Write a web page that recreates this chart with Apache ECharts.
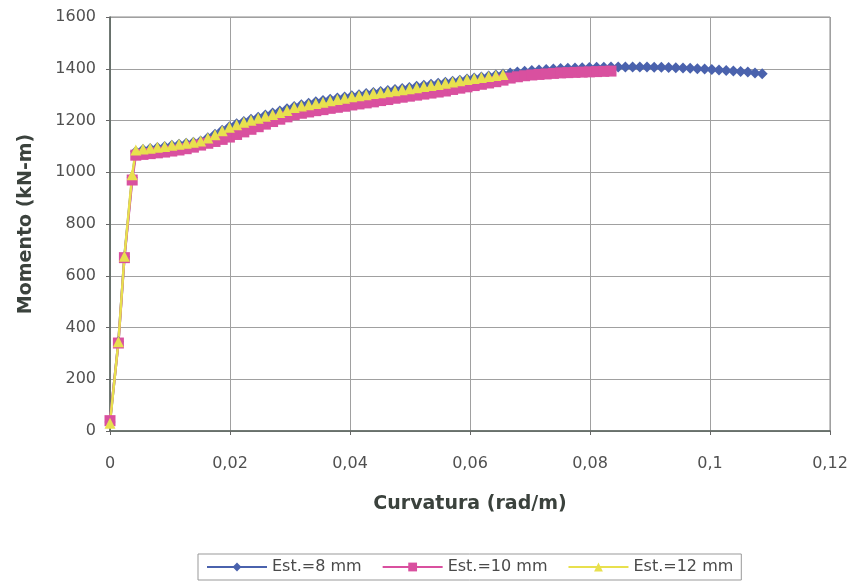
<!DOCTYPE html>
<html>
<head>
<meta charset="utf-8">
<script src="https://cdn.jsdelivr.net/npm/echarts@6/dist/echarts.min.js"></script>
<style>
  html, body { margin: 0; padding: 0; background: #fff; }
  #chart { width: 856px; height: 586px; }
</style>
</head>
<body>
<div id="chart"></div>
<script>
// curvatura (rad/m), shared by the three series
const curvatura = [
  0, 0.0014, 0.0024, 0.0037, 0.0043, 0.0055, 0.0067, 0.0079, 0.0091, 0.0103,
  0.0115, 0.0127, 0.0139, 0.0151, 0.0163, 0.0175, 0.0187, 0.0199, 0.0211, 0.0223,
  0.0235, 0.0247, 0.0259, 0.0271, 0.0283, 0.0295, 0.0307, 0.0319, 0.0331, 0.0343,
  0.0355, 0.0367, 0.0379, 0.0391, 0.0403, 0.0415, 0.0427, 0.0439, 0.0451, 0.0463,
  0.0475, 0.0487, 0.0499, 0.0511, 0.0523, 0.0535, 0.0547, 0.0559, 0.0571, 0.0583,
  0.0595, 0.0607, 0.0619, 0.0631, 0.0643, 0.0655, 0.0667, 0.0679, 0.0691, 0.0703,
  0.0715, 0.0727, 0.0739, 0.0751, 0.0763, 0.0775, 0.0787, 0.0799, 0.0811, 0.0823,
  0.0835, 0.0847, 0.0859, 0.0871, 0.0883, 0.0895, 0.0907, 0.0919, 0.0931, 0.0943,
  0.0955, 0.0967, 0.0979, 0.0991, 0.1003, 0.1015, 0.1027, 0.1039, 0.1051, 0.1063,
  0.1075, 0.1087
];

// momento (kN-m)
const momento8 = [
  35, 345, 673, 980, 1080, 1088, 1092, 1096, 1100, 1104,
  1108, 1112, 1116, 1121, 1133, 1147, 1162, 1176, 1187, 1196,
  1205, 1213, 1221, 1229, 1237, 1245, 1254, 1261, 1267, 1272,
  1277, 1282, 1287, 1291, 1296, 1300, 1304, 1308, 1312, 1316,
  1320, 1324, 1328, 1332, 1336, 1340, 1344, 1348, 1352, 1356,
  1360, 1364, 1368, 1372, 1376, 1380, 1384, 1387, 1390, 1393,
  1395, 1397, 1399, 1401, 1402, 1403, 1404, 1405, 1406, 1406,
  1407, 1407, 1407, 1407, 1407, 1407, 1406, 1406, 1405, 1404,
  1403, 1402, 1400, 1399, 1397, 1395, 1393, 1391, 1389, 1387,
  1384, 1381
];

const momento10 = [
  40, 340, 670, 970, 1066, 1069, 1072, 1075, 1078, 1082,
  1086, 1091, 1097, 1105, 1112, 1119, 1127, 1136, 1146, 1156,
  1166, 1176, 1186, 1196, 1205, 1214, 1222, 1228, 1233, 1238,
  1242, 1247, 1251, 1255, 1260, 1264, 1268, 1272, 1277, 1281,
  1286, 1290, 1294, 1298, 1302, 1306, 1310, 1314, 1320, 1325,
  1330, 1335, 1340, 1345, 1350, 1356, 1364, 1369, 1373, 1376,
  1378, 1380, 1382, 1384, 1385, 1386, 1387, 1388, 1389, 1390,
  1391
];

const momento12 = [
  30, 345, 675, 990, 1086, 1090, 1093, 1097, 1100, 1104,
  1108, 1112, 1116, 1121, 1132, 1145, 1160, 1174, 1184, 1193,
  1201, 1209, 1216, 1223, 1231, 1239, 1250, 1256, 1261, 1266,
  1271, 1276, 1281, 1286, 1292, 1296, 1300, 1304, 1307, 1311,
  1315, 1319, 1323, 1327, 1331, 1335, 1339, 1344, 1349, 1354,
  1358, 1362, 1366, 1370, 1374, 1378
];

const nombres = ['Est.=8 mm', 'Est.=10 mm', 'Est.=12 mm'];

const chart = echarts.init(document.getElementById('chart'));

function pares(ys) {
  return ys.map((m, i) => [curvatura[i], m]);
}

const fuente = 'DejaVu Sans, Liberation Sans, sans-serif';

chart.setOption({
  animation: false,
  textStyle: { fontFamily: fuente },
  grid: {
    left: 110, right: 26, top: 17, bottom: 155,
    show: true, borderColor: '#8a8a8a', borderWidth: 1
  },
  legend: {
    data: nombres,
    bottom: 6,
    left: 198,
    itemWidth: 60,
    itemHeight: 11,
    itemGap: 20,
    padding: [5, 8],
    borderColor: '#999',
    borderWidth: 1,
    textStyle: { fontSize: 16, color: '#4a4a4a', fontFamily: fuente }
  },
  xAxis: {
    type: 'value',
    min: 0, max: 0.12, interval: 0.02,
    name: 'Curvatura (rad/m)',
    nameLocation: 'middle',
    nameGap: 64,
    nameTextStyle: { fontSize: 19, fontWeight: 'bold', color: '#3b423d', fontFamily: fuente },
    axisLine: { lineStyle: { color: '#55605a', width: 1.5 } },
    axisTick: { show: true, length: 4, lineStyle: { color: '#666' } },
    axisLabel: {
      fontSize: 16, color: '#505050', margin: 25,
      formatter: v => String(+v.toFixed(4)).replace('.', ',')
    },
    splitLine: { lineStyle: { color: '#a0a0a0', width: 1 } }
  },
  yAxis: {
    type: 'value',
    min: 0, max: 1600, interval: 200,
    name: 'Momento (kN-m)',
    nameLocation: 'middle',
    nameGap: 74,
    nameTextStyle: { fontSize: 19, fontWeight: 'bold', color: '#3b423d', fontFamily: fuente },
    axisLine: { show: true, lineStyle: { color: '#55605a', width: 1.5 } },
    axisTick: { show: true, length: 4, lineStyle: { color: '#666' } },
    axisLabel: { fontSize: 16, color: '#505050', margin: 14, formatter: v => String(v) },
    splitLine: { lineStyle: { color: '#a0a0a0', width: 1 } }
  },
  series: [
    {
      name: nombres[0], type: 'line', data: pares(momento8),
      symbol: 'diamond', symbolSize: 11, showAllSymbol: true,
      itemStyle: { color: '#4a62ad' },
      lineStyle: { color: '#4a62ad', width: 2.5 }
    },
    {
      name: nombres[1], type: 'line', data: pares(momento10),
      symbol: 'rect', symbolSize: 11, showAllSymbol: true,
      itemStyle: { color: '#d9509f' },
      lineStyle: { color: '#d9509f', width: 2.5 }
    },
    {
      name: nombres[2], type: 'line', data: pares(momento12),
      symbol: 'triangle', symbolSize: 11, showAllSymbol: true,
      itemStyle: { color: '#e8e04e' },
      lineStyle: { color: '#e8e04e', width: 2.5 }
    }
  ]
});
</script>
</body>
</html>
